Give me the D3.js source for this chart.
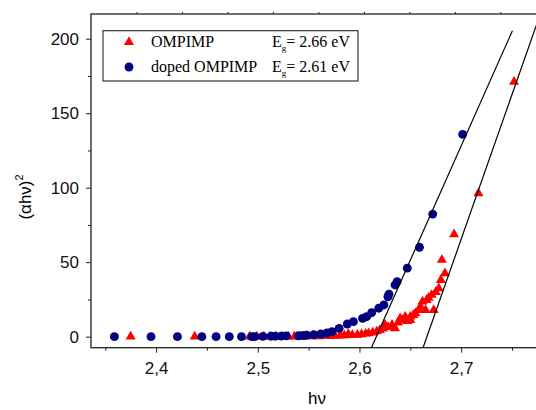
<!DOCTYPE html>
<html>
<head>
<meta charset="utf-8">
<script src="https://cdn.jsdelivr.net/npm/d3@7"></script>
<style>
  body { margin: 0; background: #fff; }
  svg { display: block; }
</style>
</head>
<body>
<script>
const width = 536;
const height = 410;

// OMPIMP (red triangles)
const ompimpX = [2.375, 2.438, 2.492, 2.499, 2.506, 2.512, 2.518, 2.524, 2.530, 2.536, 2.542, 2.548,
  2.554, 2.560, 2.566, 2.571, 2.576, 2.581, 2.585, 2.589, 2.593, 2.598, 2.602, 2.606, 2.609, 2.613,
  2.617, 2.620, 2.623, 2.625, 2.628, 2.632, 2.635, 2.638, 2.640, 2.642, 2.645, 2.647, 2.650, 2.650,
  2.653, 2.655, 2.658, 2.660, 2.662, 2.665, 2.666, 2.668, 2.671, 2.673, 2.675, 2.678, 2.680, 2.684,
  2.681, 2.693, 2.717, 2.752];
const ompimpY = [0, 0, 0, 0, 0, 0, 0, 0, 0, 0.1, 0.1, 0.2,
  0.2, 0.3, 0.4, 0.4, 0.5, 0.7, 0.9, 1.8, 1.0, 1.2, 1.5, 2.0, 2.3, 2.8,
  3.5, 4.5, 5.5, 7.9, 6.5, 7.9, 5.6, 9.5, 12.3, 11.2, 13.4, 10.5, 13.4, 11.2,
  14.5, 15.7, 17.9, 20.1, 23.5, 17.9, 24.6, 26, 28, 17.9, 30, 32.5, 38, 42.5,
  51.5, 68.7, 96.2, 171.1];

// doped OMPIMP (navy circles)
const dopedX = [2.359, 2.395, 2.421, 2.445, 2.459, 2.472, 2.484, 2.494, 2.497, 2.505, 2.513, 2.517,
  2.523, 2.528, 2.540, 2.545, 2.548, 2.555, 2.562, 2.568, 2.573, 2.580, 2.588, 2.594, 2.603, 2.607,
  2.612, 2.619, 2.624, 2.628, 2.629, 2.635, 2.637, 2.647, 2.659, 2.672, 2.7015];
const dopedY = [0, 0, 0, 0, 0, 0, 0, 0, 0, 0.2, 0.3, 0.3,
  0.4, 0.5, 0.6, 0.8, 1.0, 1.3, 1.8, 2.5, 3.4, 5.6, 8.5, 10.1, 12.3, 13.4,
  16.1, 19.1, 21.3, 26.8, 28.6, 34.7, 36.9, 46, 60, 82.3, 135.8];

// linear fits (endpoints in data units)
const fitDopedX = [2.6117, 2.7504];
const fitDopedY = [-7.4, 205.4];
const fitOmpimpX = [2.6625, 2.778];
const fitOmpimpY = [-7.4, 217];

const xMajor = [2.4, 2.5, 2.6, 2.7];
const xMinor = [2.35, 2.45, 2.55, 2.65, 2.75];
const yMajor = [0, 50, 100, 150, 200];
const yMinor = [25, 75, 125, 175];

const legendNames = ["OMPIMP", "doped OMPIMP"];
const legendGaps = ["2.66", "2.61"];

const pLeft = 91, pTop = 14, pRight = 552.7, pBottom = 347.7;

const x = d3.scaleLinear().domain([2.336, 2.79]).range([pLeft, pRight]);
const y = d3.scaleLinear().domain([-7.4, 216.6]).range([pBottom, pTop]);

const svg = d3.select("body").append("svg")
  .attr("width", width)
  .attr("height", height);

svg.append("defs").append("clipPath").attr("id", "plot")
  .append("rect").attr("x", pLeft).attr("y", pTop)
  .attr("width", pRight - pLeft).attr("height", pBottom - pTop);

const axisFont = "Liberation Sans, Arial, sans-serif";

// axes
svg.append("g")
  .attr("transform", `translate(0,${pBottom})`)
  .call(d3.axisBottom(x).tickValues(xMajor).tickSize(5).tickPadding(9)
    .tickFormat(d => d3.format(".1f")(d).replace(".", ",")));
svg.append("g")
  .attr("transform", `translate(0,${pBottom})`)
  .call(d3.axisBottom(x).tickValues(xMinor).tickSize(3).tickFormat(""));

svg.append("g")
  .attr("transform", `translate(${pLeft},0)`)
  .call(d3.axisLeft(y).tickValues(yMajor).tickSize(5).tickPadding(7));
svg.append("g")
  .attr("transform", `translate(${pLeft},0)`)
  .call(d3.axisLeft(y).tickValues(yMinor).tickSize(3).tickFormat(""));

// small ticks along the top frame
const xTop = d3.scaleLinear().domain([0, 10.15]).range([pLeft, pRight]);
svg.append("g")
  .attr("transform", `translate(0,${pTop})`)
  .call(d3.axisTop(xTop).tickValues(d3.range(1, 11)).tickSize(2).tickFormat(""));

svg.selectAll(".domain").remove();
svg.selectAll(".tick line").attr("stroke", "#222");
svg.selectAll(".tick text")
  .attr("font-family", axisFont)
  .attr("font-size", 17)
  .attr("fill", "#111");

svg.append("rect")
  .attr("x", pLeft).attr("y", pTop)
  .attr("width", pRight - pLeft).attr("height", pBottom - pTop)
  .attr("fill", "none")
  .attr("stroke", "#222")
  .attr("stroke-width", 1.3);

// axis titles
svg.append("text")
  .attr("x", 317).attr("y", 404)
  .attr("text-anchor", "middle")
  .attr("font-family", axisFont)
  .attr("font-size", 17)
  .text("hν");

const yt = svg.append("text")
  .attr("transform", "translate(31,197) rotate(-90)")
  .attr("text-anchor", "middle")
  .attr("font-family", axisFont)
  .attr("font-size", 17);
yt.append("tspan").text("(αhν)");
yt.append("tspan").attr("font-size", 11).attr("dy", -8).text("2");

// data
const plot = svg.append("g").attr("clip-path", "url(#plot)");

const tri = d3.symbol().type(d3.symbolTriangle).size(44);
const dot = d3.symbol().type(d3.symbolCircle).size(62);

plot.selectAll(".tri")
  .data(d3.zip(ompimpX, ompimpY))
  .enter().append("path")
  .attr("class", "tri")
  .attr("d", tri)
  .attr("transform", d => `translate(${x(d[0])},${y(d[1])})`)
  .attr("fill", "#ff0000");

plot.selectAll(".dot")
  .data(d3.zip(dopedX, dopedY))
  .enter().append("path")
  .attr("class", "dot")
  .attr("d", dot)
  .attr("transform", d => `translate(${x(d[0])},${y(d[1])})`)
  .attr("fill", "#000080");

const line = d3.line().x(d => x(d[0])).y(d => y(d[1]));
[d3.zip(fitDopedX, fitDopedY), d3.zip(fitOmpimpX, fitOmpimpY)].forEach(pts => {
  plot.append("path")
    .attr("d", line(pts))
    .attr("fill", "none")
    .attr("stroke", "#000")
    .attr("stroke-width", 1.2);
});

// legend
const legend = svg.append("g");
legend.append("rect")
  .attr("x", 103).attr("y", 30.7)
  .attr("width", 255).attr("height", 50.3)
  .attr("fill", "#fff")
  .attr("stroke", "#222")
  .attr("stroke-width", 1.1);

const serif = "Liberation Serif, Times New Roman, serif";
const rows = legend.selectAll(".row")
  .data(legendNames)
  .enter().append("g")
  .attr("transform", (d, i) => `translate(0,${42 + i * 25})`);

rows.append("path")
  .attr("d", (d, i) => (i === 0 ? tri : dot)())
  .attr("transform", "translate(129,0)")
  .attr("fill", (d, i) => (i === 0 ? "#ff0000" : "#000080"));

rows.append("text")
  .attr("x", 151).attr("y", 5)
  .attr("font-family", serif)
  .attr("font-size", 16)
  .text(d => d);

const eg = rows.append("text")
  .attr("x", 272).attr("y", 5)
  .attr("font-family", serif)
  .attr("font-size", 16);
eg.append("tspan").text("E");
eg.append("tspan").attr("font-size", 9).attr("dy", 4).text("g");
eg.append("tspan").attr("dy", -4).text((d, i) => `= ${legendGaps[i]} eV`);
</script>
</body>
</html>
